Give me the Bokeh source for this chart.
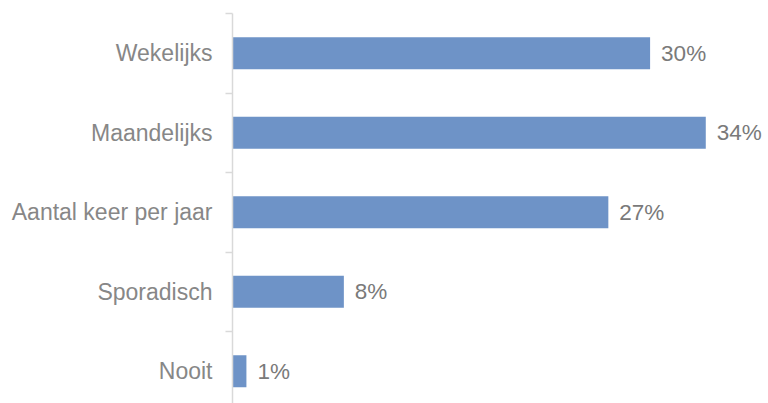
from bokeh.plotting import figure
from bokeh.models import ColumnDataSource, Range1d, FixedTicker
from bokeh.core.properties import value
from bokeh.embed import file_html
from bokeh.resources import INLINE

categories = ["Wekelijks", "Maandelijks", "Aantal keer per jaar", "Sporadisch", "Nooit"]
values = [30, 34, 27, 8, 1]
value_labels = ["30%", "34%", "27%", "8%", "1%"]

n = len(categories)
ypos = [n - 0.5 - i for i in range(n)]

src = ColumnDataSource(dict(cat=categories, val=values, lab=value_labels, y=ypos))

band = 79.5
frame_h = 403 - 13
p = figure(width=768, height=403, output_backend="svg", toolbar_location=None,
           x_range=Range1d(0, 536 / 13.92), y_range=Range1d(n - frame_h / band, n),
           min_border_left=232, min_border_right=0, min_border_top=13, min_border_bottom=0)

p.hbar(y="y", left=0, right="val", height=0.4, source=src,
       fill_color="#6e93c7", line_color=None)

p.text(x="val", y="y", text="lab", source=src, x_offset=11,
       text_align="left", text_baseline="middle",
       text_font=value("Liberation Sans"), text_font_size="22.5px", text_color="#7a7a7a")

p.xaxis.visible = False
p.xgrid.visible = False
p.ygrid.visible = False
p.outline_line_color = None

ya = p.yaxis[0]
ya.ticker = FixedTicker(ticks=ypos, minor_ticks=[float(i) for i in range(1, n + 1)])
ya.major_label_overrides = {y: c for y, c in zip(ypos, categories)}
ya.major_label_text_font = "Liberation Sans"
ya.major_label_text_font_size = "23px"
ya.major_label_text_color = "#878787"
ya.major_label_standoff = 13
ya.major_tick_in = 0
ya.major_tick_out = 0
ya.minor_tick_in = 0
ya.minor_tick_out = 7
ya.axis_line_color = "#d9d9d9"
ya.axis_line_width = 1.5
ya.minor_tick_line_color = "#d9d9d9"
ya.minor_tick_line_width = 1.5

open("out.html", "w").write(file_html(p, INLINE))
